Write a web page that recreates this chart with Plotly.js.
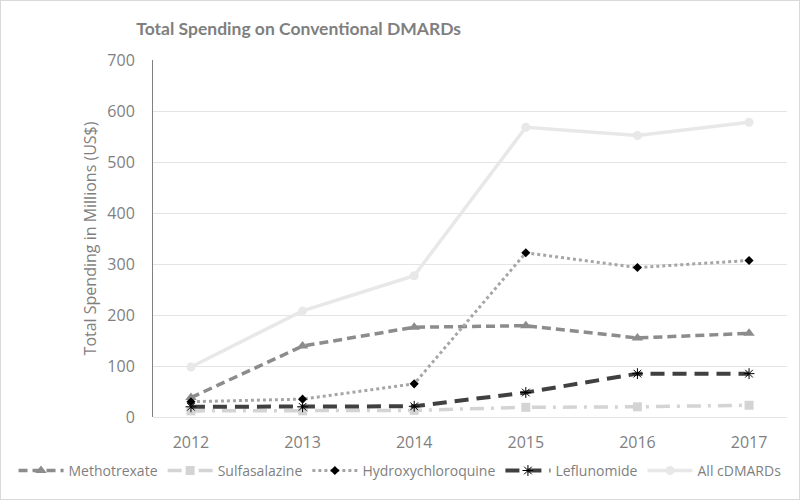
<!DOCTYPE html>
<html><head><meta charset="utf-8">
<script src="https://cdn.plot.ly/plotly-3.0.1.min.js"></script>
<style>html,body{margin:0;padding:0;background:#fff}#chart{width:798px;height:498px;border:1px solid #d9d9d9}</style>
</head><body><div id="chart"></div>
<script>
const years = ['2012','2013','2014','2015','2016','2017'];
const methotrexate = [38, 139, 176, 179, 155, 164];
const sulfasalazine = [12, 12, 13, 19, 20, 23];
const hydroxychloroquine = [30, 35, 65, 322, 293, 307];
const leflunomide = [20, 20, 21, 48, 85, 85];
const allCDMARDs = [98, 208, 277, 568, 552, 578];
const yTicks = [0,100,200,300,400,500,600,700];

const traces = [
  {name:'Methotrexate', x:years, y:methotrexate, mode:'lines+markers',
   line:{color:'#8c8c8c', width:3.5, dash:'9px,5px'}, marker:{symbol:'triangle-up', size:10, color:'#8c8c8c'}},
  {name:'Sulfasalazine', x:years, y:sulfasalazine, mode:'lines+markers',
   line:{color:'#d4d4d4', width:3.5, dash:'14px,7px,3px,7px'}, marker:{symbol:'square', size:9, color:'#d4d4d4'}},
  {name:'Hydroxychloroquine', x:years, y:hydroxychloroquine, mode:'lines+markers',
   line:{color:'#a6a6a6', width:3, dash:'dot'}, marker:{symbol:'diamond', size:7, color:'#000000'}},
  {name:'Leflunomide', x:years, y:leflunomide, mode:'lines+markers',
   line:{color:'#404040', width:4, dash:'14px,8px'}, marker:{symbol:'asterisk-open', size:9, color:'#000', line:{color:'#000', width:1}}},
  {name:'All cDMARDs', x:years, y:allCDMARDs, mode:'lines+markers',
   line:{color:'#e8e8e8', width:3.5}, marker:{symbol:'circle', size:9, color:'#e8e8e8'}}
];

const layout = {
  width:798, height:498,
  margin:{l:150, r:12, t:59, b:82},
  paper_bgcolor:'#fff', plot_bgcolor:'#fff',
  font:{family:'Open Sans, sans-serif', color:'#7f7f7f', size:15},
  title:{text:'<b>Total Spending on Conventional DMARDs</b>', font:{size:17.5, color:'#7f7f7f', family:'Lato, sans-serif'},
         x:0.373, xanchor:'center', y:0.944, yanchor:'middle'},
  xaxis:{type:'category', showgrid:false, zeroline:false, showline:false, ticks:'',
         tickfont:{size:16, color:'#7f7f7f'}, ticklabelstandoff:14},
  yaxis:{range:[0,700], tickvals:yTicks, showgrid:true, gridcolor:'#e4e4e4', gridwidth:1,
         zeroline:true, zerolinecolor:'#e4e4e4', showline:true, linecolor:'#808080', linewidth:1,
         tickfont:{size:16, color:'#7f7f7f'}, ticks:'', ticklabelstandoff:14,
         title:{text:'Total Spending in Millions (US$)', font:{size:16, color:'#7f7f7f'}, standoff:6}},
  showlegend:true,
  legend:{orientation:'h', xref:'paper', yref:'paper', x:-0.22, xanchor:'left', y:-0.151, yanchor:'middle',
          font:{size:14, color:'#7f7f7f'}, itemwidth:45, traceorder:'normal'}
};
Plotly.newPlot('chart', traces, layout, {displayModeBar:false, staticPlot:true});
</script></body></html>
